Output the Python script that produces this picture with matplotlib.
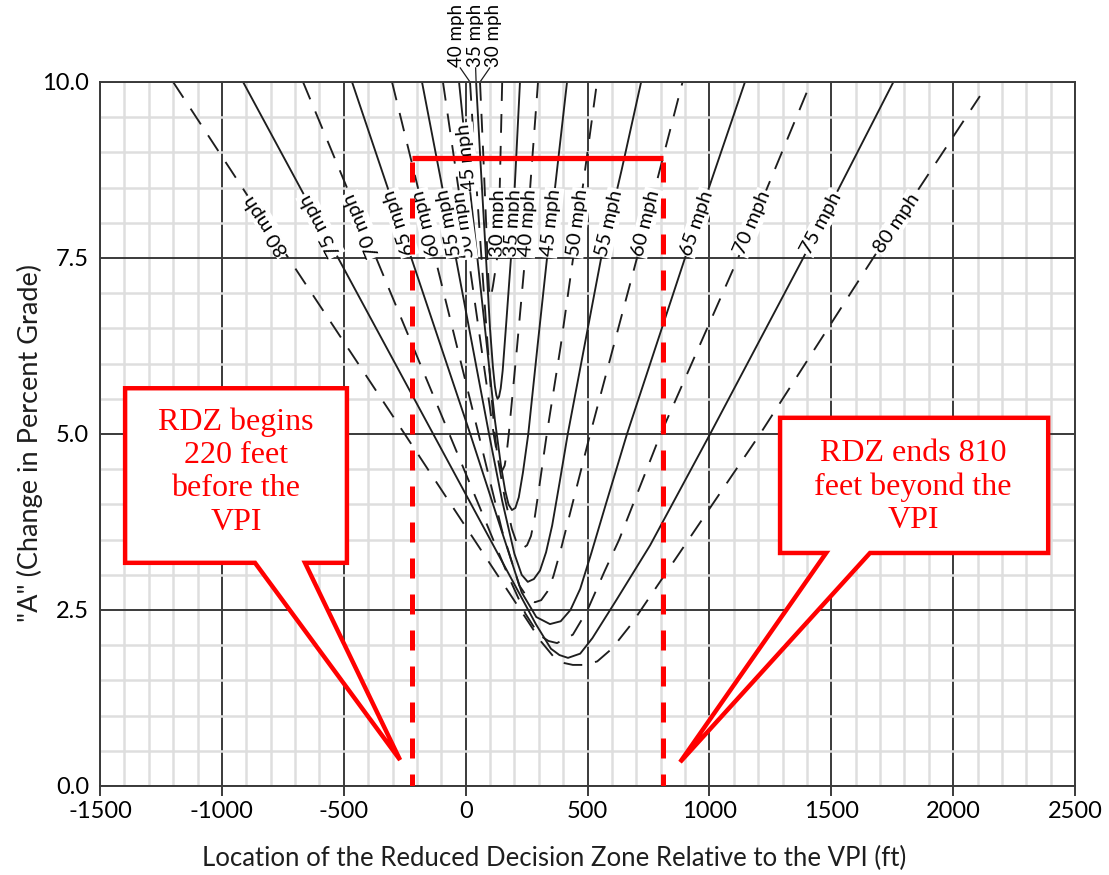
import numpy as np
import matplotlib.pyplot as plt
from matplotlib.patches import Polygon
from matplotlib.ticker import MultipleLocator

plt.rcParams['font.family'] = ['Lato', 'DejaVu Sans']
plt.rcParams['axes.unicode_minus'] = False

# boundary curves: x = ft from the VPI, y = "A" (% grade)
x30 = [59, 72, 84, 92, 96, 100, 105, 112, 120, 129, 140, 150]
y30 = [10, 9.0, 8.0, 7.3, 7.05, 6.93, 6.97, 7.1, 7.28, 7.5, 8.5, 10]
x35 = [43, 62, 82, 100, 112, 120, 126, 131, 137, 144, 152, 165, 186, 205, 223]
y35 = [10, 8.8, 7.6, 6.5, 5.95, 5.68, 5.55, 5.5, 5.53, 5.65, 5.9, 6.5, 7.5, 8.75, 10]
x40 = [18, 45, 75, 100, 118, 130, 140, 150, 160, 168, 177, 210, 244, 270, 297]
y40 = [10, 8.5, 7.0, 5.8, 5.05, 4.7, 4.55, 4.48, 4.55, 4.72, 5.0, 6.2, 7.5, 8.75, 10]
x45 = [-27, 18, 70, 120, 145, 162, 176, 190, 204, 218, 235, 257, 295, 334, 375, 416]
y45 = [10, 8.46, 6.8, 5.2, 4.55, 4.2, 4.0, 3.92, 3.95, 4.1, 4.45, 5.0, 6.25, 7.5, 8.75, 10]
x50 = [-93, 12, 115, 160, 190, 210, 232, 252, 268, 282, 300, 333, 390, 441, 490, 539]
y50 = [10, 7.5, 5.0, 4.1, 3.65, 3.45, 3.37, 3.42, 3.55, 3.78, 4.2, 5.0, 6.25, 7.5, 8.75, 10]
x55 = [-179, -40, 96, 150, 200, 230, 255, 280, 305, 330, 355, 385, 419, 556, 640, 720]
y55 = [10, 7.5, 5.0, 4.05, 3.3, 3.0, 2.9, 2.94, 3.06, 3.32, 3.7, 4.3, 5.0, 7.5, 8.75, 10]
x60 = [-302, -125, 53, 150, 220, 255, 284, 310, 335, 360, 390, 511, 703, 890]
y60 = [10, 7.5, 5.0, 3.62, 2.85, 2.67, 2.61, 2.64, 2.76, 2.98, 3.35, 5.0, 7.5, 10]
x65 = [-466, -216, 19, 150, 230, 290, 346, 390, 430, 470, 515, 575, 662, 900, 1146]
y65 = [10, 7.43, 5.0, 3.6, 2.75, 2.4, 2.30, 2.34, 2.5, 2.8, 3.3, 4.0, 5.0, 7.5, 10]
x70 = [-667, -67, 173, 245, 300, 340, 375, 440, 500, 570, 630, 800, 1118, 1417]
y70 = [10, 5.0, 3.0, 2.45, 2.15, 2.06, 2.03, 2.15, 2.5, 3.05, 3.5, 5.0, 7.5, 10]
x75 = [-913, -133, 179, 288, 350, 385, 420, 470, 520, 620, 757, 1003, 1385, 1755]
y75 = [10, 5.0, 3.0, 2.3, 1.95, 1.86, 1.82, 1.88, 2.1, 2.65, 3.42, 5.0, 7.5, 10]
x80 = [-1200, -729, -250, 130, 263, 310, 360, 400, 440, 490, 540, 600, 680, 1208, 1672, 2110]
y80 = [10, 7.51, 5.0, 3.0, 2.3, 2.05, 1.84, 1.75, 1.72, 1.72, 1.77, 1.95, 2.3, 5.0, 7.5, 9.8]

speeds = [30, 35, 40, 45, 50, 55, 60, 65, 70, 75, 80]
curves_x = [x30, x35, x40, x45, x50, x55, x60, x65, x70, x75, x80]
curves_y = [y30, y35, y40, y45, y50, y55, y60, y65, y70, y75, y80]

# where the labels sit on each branch (grade value)
right_label_y = [8.0] * 11
right_label_rot = [89, 87, 86, 84, 83, 77, 76, 71, 67, 62, 56]
left_label_speeds = [45, 50, 55, 60, 65, 70, 75, 80]
left_label_y = [8.93, 7.97, 8.0, 8.0, 8.0, 7.97, 7.97, 7.97]
left_label_rot = [96, 98, 101, 104, 108, 113, 118, 123]
top_label_speeds = [40, 35, 30]

# reduced decision zone
rdz_start = -220
rdz_end = 810
rdz_top = 8.92

fig = plt.figure(figsize=(11.09, 8.75), dpi=100)
ax = fig.add_axes([100 / 1109, 89 / 875, 975 / 1109, 704 / 875])
ax.set_xlim(-1500, 2500)
ax.set_ylim(0, 10)
ax.xaxis.set_major_locator(MultipleLocator(500))
ax.xaxis.set_minor_locator(MultipleLocator(100))
ax.yaxis.set_major_locator(MultipleLocator(2.5))
ax.yaxis.set_minor_locator(MultipleLocator(0.5))
ax.yaxis.set_major_formatter(lambda v, p: '{:.1f}'.format(v))
ax.set_axisbelow(True)
ax.grid(which='minor', color='#dedede', lw=1.8)
ax.grid(which='major', color='#3a3a3a', lw=1.4)
for s in ax.spines.values():
    s.set_color('#3a3a3a')
    s.set_linewidth(1.4)
ax.tick_params(axis='x', which='major', length=7, width=1.4, color='#3a3a3a',
               labelsize=17, pad=4)
ax.tick_params(axis='y', which='major', length=0, labelsize=17, pad=8)
ax.tick_params(which='minor', length=0)

for sp, xs, ys in zip(speeds, curves_x, curves_y):
    if sp % 10 == 0:
        ax.plot(xs, ys, color='#1e1e1e', lw=1.35, dashes=(10, 7), zorder=2)
    else:
        ax.plot(xs, ys, color='#1e1e1e', lw=1.35, zorder=2)

box = dict(boxstyle='square,pad=0.06', fc='white', ec='none')
lab_size = 14.5

# labels on right-hand branches
for sp, xs, ys, ly, rot in zip(speeds, curves_x, curves_y, right_label_y, right_label_rot):
    i = int(np.argmin(ys))
    lx = np.interp(ly, ys[i:], xs[i:])
    ax.text(lx, ly, '{} mph'.format(sp), rotation=rot, rotation_mode='anchor',
            ha='center', va='center', fontsize=lab_size, bbox=box, zorder=3)

# labels on left-hand branches
for sp, ly, rot in zip(left_label_speeds, left_label_y, left_label_rot):
    k = speeds.index(sp)
    xs, ys = curves_x[k], curves_y[k]
    i = int(np.argmin(ys))
    lx = np.interp(ly, ys[:i + 1][::-1], xs[:i + 1][::-1])
    ax.text(lx, ly, '{} mph'.format(sp), rotation=rot, rotation_mode='anchor',
            ha='center', va='center', fontsize=lab_size, bbox=box, zorder=3)

# the slow-speed labels sit above the frame with leader lines
top_offsets = [-40, -2, 40]
for sp, off in zip(top_label_speeds, top_offsets):
    k = speeds.index(sp)
    x_top = curves_x[k][0]
    ax.plot([x_top, x_top + off], [10, 10.2], color='#1e1e1e', lw=0.9, clip_on=False)
    ax.text(x_top + off * 1.35, 10.22, '{} mph'.format(sp), rotation=90,
            ha='center', va='bottom', fontsize=13.5)

# RDZ marks
ax.plot([rdz_start, rdz_end], [rdz_top, rdz_top], color='#ff0000', lw=3.8,
        solid_capstyle='butt', zorder=5)
for xv in (rdz_start, rdz_end):
    ax.plot([xv, xv], [rdz_top - 0.05, 0], color='#ff0000', lw=3.6,
            dashes=(4, 3.2), zorder=5)

# callouts
left_callout = [(-1397, 5.65), (-487, 5.65), (-487, 3.17), (-659, 3.17),
                (-269, 0.37), (-864, 3.17), (-1397, 3.17)]
right_callout = [(1290, 5.23), (2390, 5.23), (2390, 3.31), (1659, 3.31),
                 (880, 0.34), (1479, 3.31), (1290, 3.31)]
for pts in (left_callout, right_callout):
    ax.add_patch(Polygon(pts, closed=True, fc='white', ec='#ff0000', lw=3.2,
                         joinstyle='miter', zorder=6))
ax.text(-942, 4.46, 'RDZ begins\n220 feet\nbefore the\nVPI', color='#ff0000',
        family='Liberation Serif', fontsize=23, linespacing=1.2,
        ha='center', va='center', zorder=7)
ax.text(1836, 4.25, 'RDZ ends 810\nfeet beyond the\nVPI', color='#ff0000',
        family='Liberation Serif', fontsize=23, linespacing=1.2,
        ha='center', va='center', zorder=7)

fig.text(554 / 1109, 1 - 858 / 875,
         'Location of the Reduced Decision Zone Relative to the VPI (ft)',
         ha='center', va='center', fontsize=18.5, color='#1e1e1e')
fig.text(30 / 1109, 1 - 443 / 875, '"A" (Change in Percent Grade)',
         rotation=90, ha='center', va='center', fontsize=19.5, color='#1e1e1e')

fig.savefig('out.png', dpi=100, facecolor='white')
